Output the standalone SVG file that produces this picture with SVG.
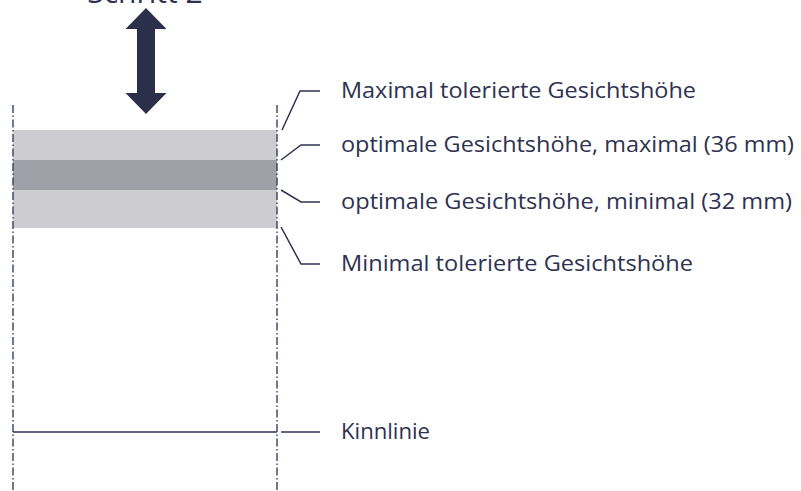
<svg xmlns="http://www.w3.org/2000/svg" width="801" height="491" viewBox="0 0 801 491">
<style>
.lbl{font-family:"Open Sans","Liberation Sans",sans-serif;font-size:21px;fill:#2e3250}
.guide{stroke:#3a3f5e;stroke-width:1.4;fill:none;stroke-dasharray:8 2.5 1.5 2.5}
.lead{stroke:#2e3250;stroke-width:1.5;fill:none}
</style>
<rect width="801" height="491" fill="#ffffff"/>
<g id="bands">
<rect x="13" y="130" width="264" height="30" fill="#cdcdd1"/>
<rect x="13" y="160" width="264" height="30" fill="#a0a0a8"/>
<rect x="13" y="190" width="264" height="38" fill="#cdcdd1"/>
</g>
<g id="guides">
<line class="guide" x1="13" y1="105" x2="13" y2="491"/>
<line class="guide" x1="277" y1="105" x2="277" y2="491"/>
</g>
<g id="arrow">
<polygon points="146,8 166.5,29 155,29 155,93 166.5,93 146,114 125.5,93 137,93 137,29 125.5,29" fill="#2c2f4a"/>
</g>
<g id="title">
<text class="lbl" x="145" y="3" text-anchor="middle" style="font-size:30px">Schritt 2</text>
</g>
<g id="connectors">
<polyline class="lead" points="282,130 300,91 320,91"/>
<polyline class="lead" points="281,160 301,145 320,145"/>
<polyline class="lead" points="281,190 301,202 320,202"/>
<polyline class="lead" points="281,227 301,264 320,264"/>
<line class="lead" x1="13" y1="432" x2="277" y2="432"/>
<line class="lead" x1="281" y1="432" x2="320" y2="432"/>
</g>
<g id="label-max-tol"><text class="lbl" x="341" y="98" textLength="355" lengthAdjust="spacingAndGlyphs">Maximal tolerierte Gesichtshöhe</text></g>
<g id="label-opt-max"><text class="lbl" x="341" y="152" textLength="453" lengthAdjust="spacingAndGlyphs">optimale Gesichtshöhe, maximal (36 mm)</text></g>
<g id="label-opt-min"><text class="lbl" x="341" y="209" textLength="451" lengthAdjust="spacingAndGlyphs">optimale Gesichtshöhe, minimal (32 mm)</text></g>
<g id="label-min-tol"><text class="lbl" x="341" y="271" textLength="352" lengthAdjust="spacingAndGlyphs">Minimal tolerierte Gesichtshöhe</text></g>
<g id="label-kinn"><text class="lbl" x="341" y="439" textLength="89" lengthAdjust="spacingAndGlyphs">Kinnlinie</text></g>
</svg>
